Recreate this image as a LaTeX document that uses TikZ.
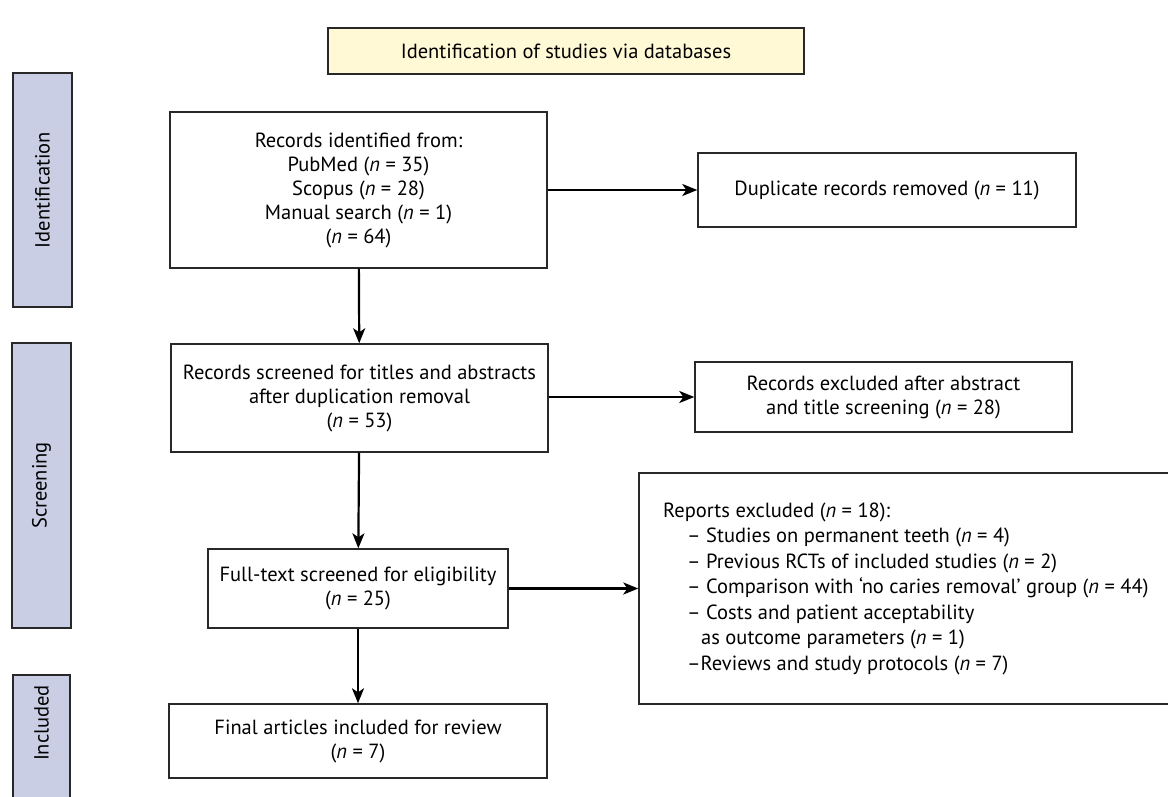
\documentclass[tikz,border=0pt]{standalone}
\usepackage{fontspec}
\setmainfont{PT Sans}
\usetikzlibrary{arrows.meta}
\definecolor{hdrfill}{RGB}{255,249,214}
\definecolor{sidefill}{RGB}{201,206,228}
\definecolor{boxline}{RGB}{40,40,40}
\newcommand{\nn}{\textit{n}}
\newcommand{\dfont}{\fontsize{20.5}{24}\selectfont}
\tikzset{
  base/.style={draw=boxline, line width=1.4pt, inner sep=0pt, font=\dfont, align=center},
  flowbox/.style={base, fill=white, rectangle},
  hdrbox/.style={base, fill=hdrfill},
  sidebox/.style={base, fill=sidefill},
  sidelabel/.style={rotate=90, font=\dfont, inner sep=0pt},
  arr/.style={line width=2.2pt, -{Stealth[length=15pt,width=12pt,inset=4pt]}},
}
\begin{document}
\begin{tikzpicture}[x=1pt,y=-1pt]
\useasboundingbox (0,0) rectangle (1168,796);
% header
\node[hdrbox, minimum width=476pt, minimum height=46pt] (hdr) at (566,51) {Identification of studies via databases};
% side boxes
\node[sidebox, minimum width=59pt, minimum height=234pt] (sid) at (42.5,190) {};
\node[sidelabel] (sidt) at (sid.center) {Identification};
\node[sidebox, minimum width=59pt, minimum height=285pt] (sscr) at (41.5,485.5) {};
\node[sidelabel] (sscrt) at (sscr.center) {Screening};
\node[sidebox, minimum width=57pt, minimum height=135pt] (sinc) at (41.5,742.5) {};
\node[sidelabel] (sinct) at (41.5,723) {Included};
% main boxes
\node[flowbox, minimum width=377pt, minimum height=156pt] (rec) at (358.5,190) {Records identified from:\\PubMed (\nn{} = 35)\\Scopus (\nn{} = 28)\\Manual search (\nn{} = 1)\\(\nn{} = 64)};
\node[flowbox, minimum width=378pt, minimum height=74pt] (dup) at (887,190) {Duplicate records removed (\nn{} = 11)};
\node[flowbox, minimum width=377pt, minimum height=108pt] (scr) at (359.5,398) {Records screened for titles and abstracts\\after duplication removal\\(\nn{} = 53)};
\node[flowbox, minimum width=377pt, minimum height=70pt] (exc) at (883.5,397) {Records excluded after abstract\\and title screening (\nn{} = 28)};
\node[flowbox, minimum width=300pt, minimum height=79pt] (ft) at (358,588.5) {Full-text screened for eligibility\\(\nn{} = 25)};
\node[flowbox, minimum width=536pt, minimum height=231pt] (rep) at (907,588.5) {};
\node[anchor=west, align=left, font=\fontsize{20.5}{25.5}\selectfont, inner sep=0pt] (rept) at (663,588.5) {Reports excluded (\nn{} = 18):\\
\hspace*{24pt}– Studies on permanent teeth (\nn{} = 4)\\
\hspace*{24pt}– Previous RCTs of included studies (\nn{} = 2)\\
\hspace*{24pt}– Comparison with ‘no caries removal’ group (\nn{} = 44)\\
\hspace*{24pt}– Costs and patient acceptability\\
\hspace*{38pt}as outcome parameters (\nn{} = 1)\\
\hspace*{24pt}–Reviews and study protocols (\nn{} = 7)};
\node[flowbox, minimum width=378pt, minimum height=74pt] (fin) at (358,741) {Final articles included for review\\(\nn{} = 7)};
% arrows
\draw[arr] (rec.east |- dup.west) -- (dup.west);
\draw[arr] (rec) -- (scr);
\draw[arr] (scr.east |- exc.west) -- (exc.west);
\draw[arr] (scr) -- (ft);
\draw[arr] (ft.east) -- (rep.west |- ft.east);
\draw[arr] (ft) -- (fin);
\end{tikzpicture}
\end{document}
